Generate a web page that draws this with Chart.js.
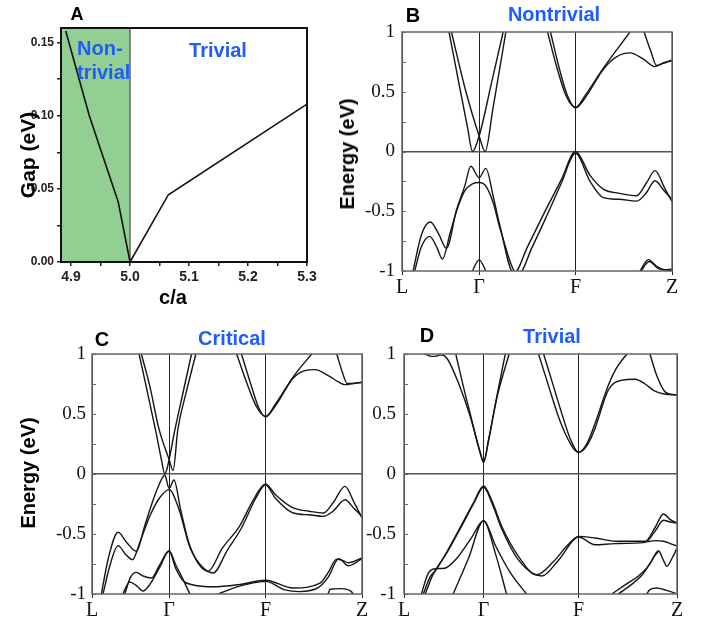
<!DOCTYPE html>
<html>
<head>
<meta charset="utf-8">
<script src="https://cdn.jsdelivr.net/npm/chart.js@4.4.1/dist/chart.umd.min.js"></script>
<style>
  body { margin: 0; background: #fff; width: 716px; height: 622px; position: relative; overflow: hidden;
         font-family: 'Liberation Sans', Arial, sans-serif; }
  .box { position: absolute; }
  .lbl { position: absolute; font-weight: bold; white-space: nowrap; line-height: 1; transform: translate(-50%, -50%); }
  .left { transform: translate(0, -50%); }
  .rot { transform: translate(-50%, -50%) rotate(-90deg); }
  .blue { color: #1f5cff; }
</style>
</head>
<body>
<div class="box" style="left:0;top:0;width:330px;height:310px"><canvas id="cA"></canvas></div>
<div class="box" style="left:330px;top:0;width:386px;height:310px"><canvas id="cB"></canvas></div>
<div class="box" style="left:0;top:320px;width:380px;height:302px"><canvas id="cC"></canvas></div>
<div class="box" style="left:360px;top:320px;width:356px;height:302px"><canvas id="cD"></canvas></div>

<div class="lbl" style="left:77px;top:14px;font-size:18px">A</div>
<div class="lbl left blue" style="left:77px;top:48px;font-size:20px">Non-</div>
<div class="lbl left blue" style="left:77px;top:72px;font-size:20px">trivial</div>
<div class="lbl blue" style="left:218px;top:50px;font-size:20px">Trivial</div>
<div class="lbl rot" style="left:27px;top:155px;font-size:21px">Gap (eV)</div>
<div class="lbl" style="left:173px;top:297px;font-size:20px">c/a</div>

<div class="lbl" style="left:413px;top:15px;font-size:20px">B</div>
<div class="lbl blue" style="left:554px;top:14px;font-size:20px">Nontrivial</div>
<div class="lbl rot" style="left:347px;top:154px;font-size:20px">Energy (eV)</div>

<div class="lbl" style="left:102px;top:339px;font-size:20px">C</div>
<div class="lbl blue" style="left:232px;top:338px;font-size:20px">Critical</div>
<div class="lbl rot" style="left:28px;top:473px;font-size:20px">Energy (eV)</div>

<div class="lbl" style="left:427px;top:335px;font-size:20px">D</div>
<div class="lbl blue" style="left:552px;top:336px;font-size:20px">Trivial</div>

<script>
// --- panel A: gap vs c/a ---
const A_CA = [4.891, 4.931, 4.98, 5.0, 5.065, 5.3];
const A_GAP = [0.158, 0.100, 0.041, 0.0, 0.046, 0.108];
const A_NT_SPAN = [4.883, 5.0];          // non-trivial region (shaded)
const A_Y_MAX = 0.16;
const A_X_TICKS = [4.9, 4.95, 5.0, 5.05, 5.1, 5.15, 5.2, 5.25, 5.3];
const A_Y_TICKS = [0, 0.025, 0.05, 0.075, 0.1, 0.125, 0.15];

// --- band panels: [k, E] pairs, path L-Γ-F-Z ---
const K_LABELS = ['L', 'Γ', 'F', 'Z'];
const K_TICKS_BC = [0, 0.8, 1.8, 2.8];
const K_TICKS_D = [0, 0.825, 1.81, 2.83];
const E_TICKS = [-1, -0.75, -0.5, -0.25, 0, 0.25, 0.5, 0.75, 1];

// B: nontrivial
const B_c1 = [[0.488,1.0],[0.6,0.53],[0.68,0.2],[0.731,0.0],[0.8,0.13],[0.93,0.58],[1.049,1.0]];
const B_c2 = [[0.513,1.0],[0.65,0.54],[0.8,0.13],[0.862,0.0],[0.945,0.37],[1.077,1.0]];
const B_c3 = [[1.51,1.0],[1.6,0.72],[1.7,0.47],[1.8,0.37],[1.9,0.47],[2.09,0.7],[2.364,1.0]];
const B_c4 = [[1.54,1.0],[1.62,0.73],[1.71,0.48],[1.8,0.365],[1.9,0.45],[2.09,0.69],[2.22,0.79],[2.364,0.825],[2.5,0.775],[2.62,0.71],[2.7,0.735],[2.8,0.76]];
const B_c5 = [[2.51,1.0],[2.58,0.84],[2.64,0.72],[2.72,0.745],[2.8,0.765]];
const B_v1 = [[0.115,-1.0],[0.2,-0.7],[0.294,-0.59],[0.38,-0.69],[0.461,-0.81],[0.565,-0.49],[0.65,-0.29],[0.714,-0.124],[0.8,-0.22],[0.869,-0.141],[0.95,-0.39],[1.015,-0.62],[1.16,-1.02],[1.3,-0.8],[1.465,-0.53],[1.65,-0.24],[1.8,0.0],[1.95,-0.2],[2.087,-0.315],[2.25,-0.35],[2.433,-0.37],[2.53,-0.27],[2.624,-0.16],[2.72,-0.3],[2.8,-0.42]];
const B_v2 = [[0.132,-1.0],[0.2,-0.8],[0.288,-0.71],[0.36,-0.8],[0.419,-0.9],[0.5,-0.68],[0.565,-0.5],[0.65,-0.33],[0.73,-0.27],[0.8,-0.26],[0.87,-0.29],[0.95,-0.44],[1.015,-0.64],[1.205,-1.03],[1.35,-0.8],[1.5,-0.54],[1.65,-0.27],[1.8,-0.015],[1.95,-0.25],[2.087,-0.386],[2.25,-0.4],[2.433,-0.415],[2.53,-0.35],[2.624,-0.245],[2.72,-0.33],[2.8,-0.4]];
const B_v3 = [[0.69,-1.08],[0.731,-1.0],[0.8,-0.907],[0.869,-1.0],[0.91,-1.08]];
const B_v4 = [[2.44,-1.05],[2.47,-1.0],[2.555,-0.905],[2.64,-0.96],[2.72,-0.99],[2.8,-0.985]];
const B_v5 = [[2.45,-1.05],[2.48,-1.0],[2.565,-0.92],[2.65,-0.975],[2.8,-0.995]];

// C: critical
const C_c1 = [[0.488,1.0],[0.57,0.7],[0.658,0.37],[0.72,0.12],[0.755,0.0],[0.78,0.05],[0.8,0.12],[0.86,0.37],[0.95,0.7],[1.032,1.0]];
const C_c2 = [[0.512,1.0],[0.6,0.73],[0.693,0.38],[0.8,0.12],[0.841,0.03],[0.89,0.37],[0.98,0.69],[1.077,1.0]];
const C_c3 = [[1.5,1.0],[1.6,0.77],[1.7,0.57],[1.8,0.48],[1.9,0.58],[2.087,0.81],[2.278,1.0]];
const C_c4 = [[1.55,1.0],[1.65,0.74],[1.73,0.55],[1.8,0.475],[1.9,0.565],[2.087,0.8],[2.2,0.86],[2.313,0.87],[2.45,0.82],[2.56,0.765],[2.624,0.745],[2.7,0.752],[2.8,0.765]];
const C_c5 = [[2.538,1.0],[2.6,0.84],[2.645,0.755],[2.72,0.755],[2.8,0.765]];
const C_v1 = [[0.097,-1.0],[0.17,-0.7],[0.27,-0.486],[0.36,-0.57],[0.46,-0.644],[0.547,-0.43],[0.62,-0.25],[0.69,-0.1],[0.755,-0.01],[0.8,-0.12],[0.85,-0.05],[0.92,-0.3],[1.015,-0.6],[1.205,-0.81],[1.35,-0.62],[1.534,-0.43],[1.67,-0.22],[1.8,-0.083],[1.9,-0.17],[2.087,-0.283],[2.25,-0.31],[2.4,-0.325],[2.5,-0.24],[2.624,-0.103],[2.72,-0.24],[2.8,-0.367]];
const C_v2 = [[0.114,-1.0],[0.19,-0.75],[0.27,-0.597],[0.35,-0.67],[0.419,-0.714],[0.5,-0.56],[0.6,-0.35],[0.7,-0.2],[0.8,-0.13],[0.9,-0.29],[1.015,-0.61],[1.15,-0.78],[1.257,-0.825],[1.4,-0.64],[1.55,-0.45],[1.7,-0.2],[1.8,-0.09],[1.9,-0.2],[2.087,-0.325],[2.25,-0.34],[2.4,-0.353],[2.5,-0.31],[2.624,-0.214],[2.72,-0.29],[2.8,-0.353]];
const C_v3 = [[0.34,-1.0],[0.4,-0.86],[0.46,-0.82],[0.53,-0.85],[0.616,-0.867],[0.7,-0.76],[0.8,-0.64],[0.87,-0.76],[0.945,-0.88],[1.015,-1.0],[1.05,-1.06]];
const C_v4 = [[0.32,-1.0],[0.39,-0.9],[0.46,-0.93],[0.53,-0.975],[0.6,-0.92],[0.7,-0.78],[0.8,-0.645],[0.87,-0.79],[0.945,-0.89],[1.05,-0.925],[1.256,-0.94],[1.534,-0.92],[1.8,-0.885],[2.087,-0.95],[2.365,-0.91],[2.45,-0.82],[2.538,-0.71],[2.6,-0.72],[2.66,-0.74],[2.8,-0.7]];
const C_v5 = [[1.31,-1.0],[1.45,-0.955],[1.6,-0.92],[1.8,-0.895],[2.0,-0.965],[2.15,-0.98],[2.35,-0.945],[2.45,-0.86],[2.56,-0.705],[2.66,-0.765],[2.8,-0.705]];
const C_v6 = [[2.44,-1.02],[2.47,-0.96],[2.58,-0.955],[2.69,-0.98],[2.72,-1.02]];

// D: trivial
const D_c1 = [[0.2,1.01],[0.26,0.985],[0.32,0.98],[0.38,0.993],[0.443,0.967],[0.565,0.758],[0.686,0.48],[0.79,0.175],[0.825,0.097],[0.87,0.25],[0.946,0.58],[1.05,1.0]];
const D_c2 = [[0.537,1.0],[0.6,0.78],[0.69,0.49],[0.79,0.18],[0.825,0.1],[0.88,0.3],[0.97,0.66],[1.09,1.0]];
const D_c3 = [[1.395,1.0],[1.5,0.73],[1.6,0.48],[1.7,0.29],[1.77,0.2],[1.81,0.18],[1.9,0.26],[1.98,0.42],[2.118,0.74],[2.2,0.88],[2.31,1.0]];
const D_c4 = [[1.447,1.0],[1.55,0.73],[1.645,0.48],[1.73,0.28],[1.81,0.18],[1.9,0.24],[1.98,0.38],[2.118,0.7],[2.25,0.78],[2.396,0.79],[2.5,0.75],[2.6,0.69],[2.708,0.665],[2.83,0.66]];
const D_c5 = [[2.55,1.0],[2.62,0.82],[2.7,0.69],[2.76,0.665],[2.83,0.66]];
const D_v1 = [[0.2,-1.0],[0.27,-0.86],[0.33,-0.8],[0.45,-0.64],[0.6,-0.42],[0.72,-0.24],[0.825,-0.1],[0.92,-0.24],[1.015,-0.44],[1.19,-0.69],[1.375,-0.84],[1.55,-0.73],[1.7,-0.59],[1.81,-0.52],[1.98,-0.533],[2.19,-0.56],[2.5,-0.56],[2.6,-0.45],[2.69,-0.333],[2.76,-0.38],[2.83,-0.408]];
const D_v2 = [[0.22,-1.0],[0.3,-0.84],[0.45,-0.65],[0.6,-0.43],[0.72,-0.25],[0.825,-0.11],[0.92,-0.26],[1.015,-0.46],[1.19,-0.72],[1.43,-0.85],[1.6,-0.72],[1.81,-0.525],[1.98,-0.59],[2.19,-0.58],[2.5,-0.57],[2.6,-0.48],[2.69,-0.386],[2.76,-0.4],[2.83,-0.41]];
const D_v3 = [[0.18,-1.0],[0.25,-0.83],[0.32,-0.79],[0.42,-0.785],[0.55,-0.7],[0.7,-0.53],[0.825,-0.39],[0.95,-0.6],[1.1,-0.82],[1.27,-1.0]];
const D_v4 = [[0.51,-1.0],[0.67,-0.7],[0.825,-0.39],[0.95,-0.67],[1.063,-1.0]];
const D_v5 = [[2.52,-0.565],[2.6,-0.555],[2.69,-0.56],[2.76,-0.58],[2.83,-0.6]];
const D_v6 = [[2.154,-1.0],[2.3,-0.92],[2.43,-0.85],[2.52,-0.78],[2.569,-0.72],[2.638,-0.64],[2.69,-0.72],[2.725,-0.77],[2.78,-0.7],[2.83,-0.62]];
const D_v7 = [[2.222,-1.0],[2.36,-0.92],[2.47,-0.84],[2.54,-0.76],[2.6,-0.68],[2.64,-0.645]];
const D_v8 = [[2.5,-1.02],[2.55,-0.963],[2.62,-0.95],[2.72,-0.97],[2.8,-0.99],[2.83,-1.0]];

const SANS = "'Liberation Sans', Arial, sans-serif";
const SERIF = "'Liberation Serif', 'DejaVu Serif', serif";

// box around the plot area + short inward ticks on the left edge
const framePlugin = {
  id: 'frame',
  afterDatasetsDraw(chart, args, opts) {
    const { ctx, chartArea: a } = chart;
    ctx.save();
    ctx.strokeStyle = opts.color;
    ctx.lineWidth = opts.width;
    ctx.strokeRect(a.left, a.top, a.width, a.height);
    if (opts.innerTicks) {
      const ys = chart.scales.y;
      ctx.lineWidth = 1;
      ctx.beginPath();
      ys.ticks.forEach(t => {
        const py = Math.round(ys.getPixelForValue(t.value)) + 0.5;
        ctx.moveTo(a.left, py);
        ctx.lineTo(a.left + opts.innerTicks, py);
      });
      ctx.stroke();
    }
    ctx.restore();
  }
};
Chart.register(framePlugin);

const pts = (xs, ys) => xs.map((x, i) => ({ x, y: ys[i] }));

// === A ===
new Chart(document.getElementById('cA'), {
  type: 'line',
  data: {
    datasets: [
      { data: pts(A_CA, A_GAP), borderColor: '#111', borderWidth: 1.6, pointRadius: 0, tension: 0 },
      { data: pts([A_NT_SPAN[1], A_NT_SPAN[1]], [0, A_Y_MAX]), borderColor: '#666', borderWidth: 1.5, pointRadius: 0 },
      { data: pts(A_NT_SPAN, [A_Y_MAX, A_Y_MAX]), borderWidth: 0, pointRadius: 0, fill: 'origin', backgroundColor: '#93cf92' },
    ],
  },
  options: {
    animation: false, responsive: true, maintainAspectRatio: false, events: [],
    layout: { autoPadding: false, padding: { top: 28, right: 23, left: 0, bottom: 0 } },
    plugins: { legend: { display: false }, tooltip: { enabled: false }, frame: { color: '#111', width: 2 } },
    scales: {
      x: {
        type: 'linear', min: A_NT_SPAN[0], max: A_X_TICKS[A_X_TICKS.length - 1],
        afterBuildTicks: s => { s.ticks = A_X_TICKS.map(v => ({ value: v })); },
        afterFit: s => { s.height = 48; },
        ticks: {
          autoSkip: false, maxRotation: 0, padding: 3, color: '#222',
          font: { family: SANS, size: 14, weight: 'bold' },
          callback: v => (Math.abs(v * 10 - Math.round(v * 10)) < 1e-6 ? v.toFixed(1) : ''),
        },
        grid: { drawOnChartArea: false, tickLength: 4, color: '#222', lineWidth: 1.5 },
        border: { display: false },
      },
      y: {
        min: 0, max: A_Y_MAX,
        afterBuildTicks: s => { s.ticks = A_Y_TICKS.map(v => ({ value: v })); },
        afterFit: s => { s.width = 61; },
        ticks: {
          autoSkip: false, padding: 3, color: '#222',
          font: { family: SANS, size: 12, weight: 'bold' },
          callback: v => (Math.abs(v * 20 - Math.round(v * 20)) < 1e-6 ? v.toFixed(2) : ''),
        },
        grid: { drawOnChartArea: false, tickLength: 4, color: '#222', lineWidth: 1.5 },
        border: { display: false },
      },
    },
  },
});

// === band structure panels ===
function bandChart(id, bands, kTicks, o) {
  new Chart(document.getElementById(id), {
    type: 'line',
    data: {
      datasets: bands.map(b => ({
        data: b.map(([x, y]) => ({ x, y })),
        borderColor: '#151515', borderWidth: 1.4, pointRadius: 0,
        cubicInterpolationMode: 'monotone', clip: 0,
      })),
    },
    options: {
      animation: false, responsive: true, maintainAspectRatio: false, events: [],
      layout: { autoPadding: false, padding: { top: o.top, right: o.right, left: 0, bottom: 0 } },
      plugins: { legend: { display: false }, tooltip: { enabled: false }, frame: { color: '#666', width: 1.5, innerTicks: 4 } },
      scales: {
        x: {
          type: 'linear', min: kTicks[0], max: kTicks[kTicks.length - 1],
          afterBuildTicks: s => { s.ticks = kTicks.map(v => ({ value: v })); },
          afterFit: s => { s.height = o.xh; },
          ticks: { autoSkip: false, maxRotation: 0, padding: 1, color: '#111', font: { family: SERIF, size: 20 },
                   callback: (v, i) => K_LABELS[i] },
          grid: { color: '#222', lineWidth: 1, tickLength: 4 },
          border: { display: false },
        },
        y: {
          min: -1, max: 1,
          afterBuildTicks: s => { s.ticks = E_TICKS.map(v => ({ value: v })); },
          afterFit: s => { s.width = o.yw; },
          ticks: { autoSkip: false, padding: o.ypad, color: '#111', font: { family: SERIF, size: 19 },
                   callback: v => (v % 0.5 === 0 ? String(v) : '') },
          grid: { drawTicks: false,
                  color: c => (c.tick && c.tick.value === 0 ? '#555' : 'rgba(0,0,0,0)'),
                  lineWidth: c => (c.tick && c.tick.value === 0 ? 1.5 : 0) },
          border: { display: false },
        },
      },
    },
  });
}

bandChart('cB', [B_c1, B_c2, B_c3, B_c4, B_c5, B_v1, B_v2, B_v3, B_v4, B_v5], K_TICKS_BC,
  { top: 32, right: 44, yw: 72, xh: 39, ypad: 7 });
bandChart('cC', [C_c1, C_c2, C_c3, C_c4, C_c5, C_v1, C_v2, C_v3, C_v4, C_v5, C_v6], K_TICKS_BC,
  { top: 34, right: 18, yw: 92, xh: 28, ypad: 6 });
bandChart('cD', [D_c1, D_c2, D_c3, D_c4, D_c5, D_v1, D_v2, D_v3, D_v4, D_v5, D_v6, D_v7, D_v8], K_TICKS_D,
  { top: 34, right: 39, yw: 44, xh: 28, ypad: 8 });
</script>
</body>
</html>
